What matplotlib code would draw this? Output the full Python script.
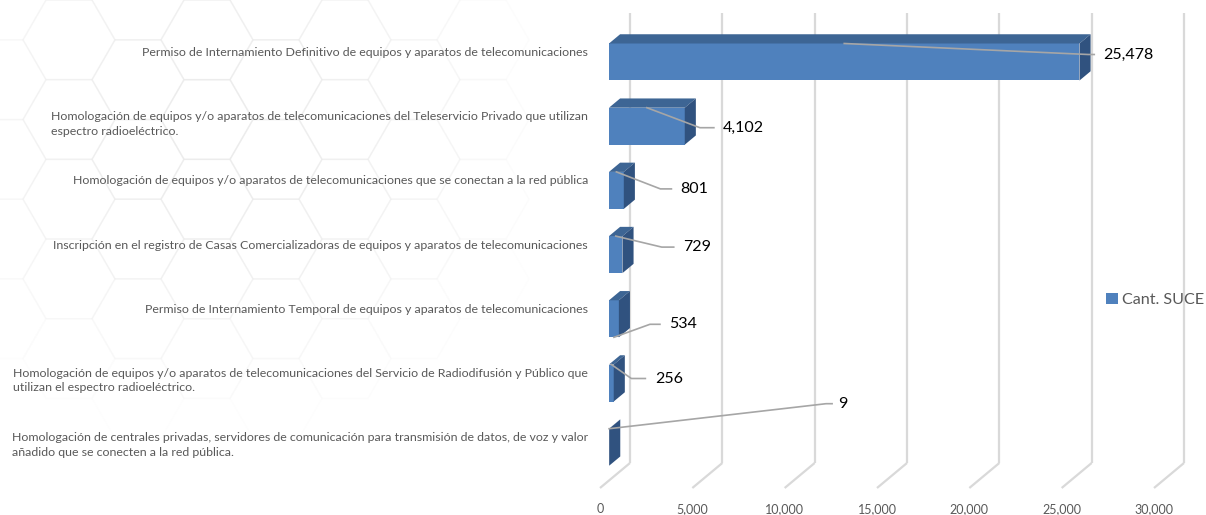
import numpy as np
import matplotlib
matplotlib.use("Agg")
import matplotlib.pyplot as plt
from matplotlib.patches import Polygon, RegularPolygon
from matplotlib.transforms import ScaledTranslation

# ---------------- data ----------------
categories = [
    "Permiso de Internamiento Definitivo de equipos y aparatos de telecomunicaciones",
    "Homologación de equipos y/o aparatos de telecomunicaciones del Teleservicio Privado que utilizan\nespectro radioeléctrico.",
    "Homologación de equipos y/o aparatos de telecomunicaciones que se conectan a la red pública",
    "Inscripción en el registro de Casas Comercializadoras de equipos y aparatos de telecomunicaciones",
    "Permiso de Internamiento Temporal de equipos y aparatos de telecomunicaciones",
    "Homologación de equipos y/o aparatos de telecomunicaciones del Servicio de Radiodifusión y Público que\nutilizan el espectro radioeléctrico.",
    "Homologación de centrales privadas, servidores de comunicación para transmisión de datos, de voz y valor\nañadido que se conecten a la red pública.",
]
values = [25478, 4102, 801, 729, 534, 256, 9]
series_name = "Cant. SUCE"
xticks = [0, 5000, 10000, 15000, 20000, 25000, 30000]
xtick_labels = ["0", "5,000", "10,000", "15,000", "20,000", "25,000", "30,000"]

# ---------------- layout / style ----------------
plt.rcParams["font.family"] = ["Lato", "DejaVu Sans"]
W, H, DPI = 1206, 515, 100
X0_PX, X1_PX = 600, 1154      # front floor edge: value 0 and 30,000
FLOOR_PX = 488                # front floor edge (pixels from top)
ROW0_PX, ROW_PX = 69.5, 64.2  # category centres in the front plane
DEPTH_DX, DEPTH_DY = 30, 25   # full depth offset in px (right, up)
BAR_D0, BAR_D1 = 0.30, 0.67   # bar depth span
BAR_H_PX = 37
WALL_TOP_PX = 13

FRONT, TOP, SIDE = "#4F81BD", "#3D6594", "#30527F"
GRID = "#D9D9D9"
LEADER = "#A6A6A6"
TXT = "#595959"

# leader layout for each label: anchor edge, knee (dx, dy px, y down), end dx, text dx
label_layout = [
    ("top", 244, 11, 250, 259),
    ("top", 53, 20, 67, 76),
    ("top", 44, 17, 55, 64),
    ("top", 46, 11, 58, 67),
    ("bottom", 36, -13, 46, 55),
    ("top", 20, 14, 34, 44),
    ("top", 217, -25, 223, 229),
]

fig = plt.figure(figsize=(W / DPI, H / DPI), dpi=DPI)
fig.patch.set_facecolor("white")

# faint hexagon background pattern
bg = fig.add_axes([0, 0, 1, 1], zorder=-10)
bg.set_xlim(0, W)
bg.set_ylim(H, 0)
bg.axis("off")
R = 46
for col in range(-1, 12):
    for row in range(-1, 8):
        cx = col * 1.5 * R
        cy = row * np.sqrt(3) * R + (col % 2) * np.sqrt(3) * R / 2
        d = np.hypot((cx - 220) / 340, (cy - 130) / 300)
        a = max(0.0, 1 - d) * 0.75
        if a <= 0.02:
            continue
        bg.add_patch(RegularPolygon((cx, cy), 6, radius=R, orientation=np.pi / 6,
                                    fill=False, edgecolor="#EAEAEA", lw=1.0, alpha=a))

ax = fig.add_axes([X0_PX / W, (H - FLOOR_PX) / H, (X1_PX - X0_PX) / W, FLOOR_PX / H])
ax.set_xlim(0, 30000)
y_floor = (FLOOR_PX - ROW0_PX) / ROW_PX
ax.set_ylim(y_floor, -ROW0_PX / ROW_PX)
ax.patch.set_alpha(0)

sx = 30000 / (X1_PX - X0_PX)   # data units per px (x)
sy = 1 / ROW_PX                # data units per px (y, downwards)


def dshift(d):
    return DEPTH_DX * d * sx, -DEPTH_DY * d * sy


# back wall grid + floor lines
wx, wy = dshift(1.0)
y_top = (WALL_TOP_PX + DEPTH_DY - ROW0_PX) / ROW_PX + wy
for t in xticks:
    ax.plot([t + wx, t + wx], [y_floor + wy, y_top], color=GRID, lw=1.6,
            clip_on=False, zorder=1, solid_capstyle="butt")
    ax.plot([t, t + wx], [y_floor, y_floor + wy], color=GRID, lw=1.6,
            clip_on=False, zorder=1, solid_capstyle="butt")

# bars
n = len(values)
pos = np.arange(n)
xs, ys = dshift(BAR_D0)
ddx, ddy = dshift(BAR_D1 - BAR_D0)
h = BAR_H_PX / ROW_PX
bars = ax.barh(pos + ys, values, left=xs, height=h, color=FRONT, zorder=3,
               label=series_name, clip_on=False)
for i, v in zip(pos, values):
    yt = i + ys - h / 2
    yb = i + ys + h / 2
    ax.add_patch(Polygon([(xs, yt), (xs + v, yt), (xs + v + ddx, yt + ddy), (xs + ddx, yt + ddy)],
                         closed=True, facecolor=TOP, edgecolor="none", zorder=3, clip_on=False))
    ax.add_patch(Polygon([(xs + v, yt), (xs + v + ddx, yt + ddy), (xs + v + ddx, yb + ddy), (xs + v, yb)],
                         closed=True, facecolor=SIDE, edgecolor="none", zorder=3, clip_on=False))

# category labels
for i, lab in zip(pos, categories):
    yt = i + ys - h / 2
    tr = ax.transData + ScaledTranslation(-21 / DPI, -3.5 / DPI, fig.dpi_scale_trans)
    ax.text(xs, yt, lab, transform=tr, ha="right", va="top", multialignment="left",
            fontsize=8.95, color=TXT, linespacing=1.38, clip_on=False)

# data labels with leader lines
for i, v, (edge, kx, ky, ex, tx) in zip(pos, values, label_layout):
    ax_x = xs + v / 2
    ax_y = i + ys - h / 2 if edge == "top" else i + ys + h / 2
    tr = fig.dpi_scale_trans + ScaledTranslation(ax_x, ax_y, ax.transData)
    ax.plot([0, kx / DPI, ex / DPI], [0, -ky / DPI, -ky / DPI], transform=tr,
            color=LEADER, lw=1.2, zorder=5, clip_on=False)
    ax.text(tx / DPI, -ky / DPI, f"{v:,}", transform=tr, ha="left", va="center",
            fontsize=11.5, color="black", zorder=6, clip_on=False)

# axes styling
ax.set_xticks(xticks)
ax.set_xticklabels(xtick_labels, fontsize=9, color=TXT)
ax.tick_params(axis="x", length=0, pad=11)
ax.set_yticks([])
for s in ax.spines.values():
    s.set_visible(False)

ax.legend(handles=[bars], loc="center left", bbox_to_anchor=(1106 / W, (H - 300) / H),
          bbox_transform=fig.transFigure, frameon=False, fontsize=11.6, labelcolor=TXT,
          handlelength=0.72, handleheight=0.72, handletextpad=0.3, borderpad=0,
          borderaxespad=0)

fig.savefig("out.png", dpi=DPI)
